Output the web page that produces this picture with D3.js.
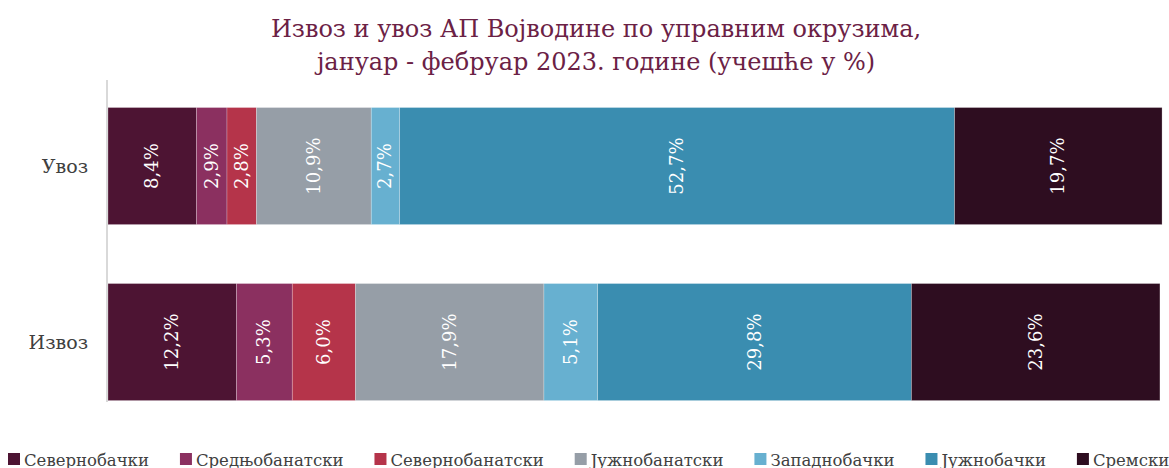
<!DOCTYPE html>
<html>
<head>
<meta charset="utf-8">
<script src="https://cdn.jsdelivr.net/npm/d3@7"></script>
<style>
  body { margin: 0; background: #fff; }
  svg { display: block; font-family: "DejaVu Serif", "Liberation Serif", serif; }
</style>
</head>
<body>
<div id="chart"></div>
<script>
const categories = ["Увоз", "Извоз"];
const districts = ["Севернобачки", "Средњобанатски", "Севернобанатски", "Јужнобанатски", "Западнобачки", "Јужнобачки", "Сремски"];
const importShare = [8.4, 2.9, 2.8, 10.9, 2.7, 52.7, 19.7];
const exportShare = [12.2, 5.3, 6.0, 17.9, 5.1, 29.8, 23.6];
const colors = ["#4d1433", "#8b3060", "#b5344a", "#969ea7", "#67b0d0", "#3a8db0", "#2e0d20"];

function init() {
  const width = 1169;
  const height = 468;
  const margin = { left: 108, right: 8 };

  const svg = d3.select("#chart").append("svg")
      .attr("width", width)
      .attr("height", height);

  // title
  const title = svg.append("text")
      .attr("text-anchor", "middle")
      .attr("fill", "#6b2145")
      .attr("font-size", 24);
  title.append("tspan").attr("x", 596).attr("y", 37).text("Извоз и увоз АП Војводине по управним окрузима,");
  title.append("tspan").attr("x", 596).attr("y", 70).text("јануар - фебруар 2023. године (учешће у %)");

  const rows = [importShare, exportShare];

  const x = d3.scaleLinear()
      .domain([0, 100])
      .range([margin.left, width - margin.right]);

  const y = d3.scaleBand()
      .domain(categories)
      .range([77.6, 430.5])
      .paddingInner(0.335)
      .paddingOuter(0.17);

  // stacked segments
  const segs = [];
  categories.forEach((c, i) => {
    let acc = 0;
    rows[i].forEach((v, j) => {
      segs.push({ cat: c, key: districts[j], v, x0: acc, x1: acc + v, color: colors[j] });
      acc += v;
    });
  });

  svg.append("g")
    .selectAll("rect")
    .data(segs)
    .join("rect")
      .attr("x", d => x(d.x0))
      .attr("y", d => y(d.cat))
      .attr("width", d => x(d.x1) - x(d.x0))
      .attr("height", y.bandwidth())
      .attr("fill", d => d.color)
      .attr("stroke", "rgba(255,255,255,0.35)")
      .attr("stroke-width", 0.7);

  const fmt = v => v.toFixed(1).replace(".", ",") + "%";

  svg.append("g")
    .selectAll("text")
    .data(segs)
    .join("text")
      .attr("transform", d => `translate(${(x(d.x0) + x(d.x1)) / 2 + 6},${y(d.cat) + y.bandwidth() / 2}) rotate(-90)`)
      .attr("text-anchor", "middle")
      .attr("fill", "#fff")
      .attr("font-size", 18)
      .text(d => fmt(d.v));

  // axis line
  svg.append("line")
      .attr("x1", margin.left - 1).attr("x2", margin.left - 1)
      .attr("y1", 80).attr("y2", 402)
      .attr("stroke", "#d9d9d9")
      .attr("stroke-width", 2);

  // category labels
  svg.append("g")
    .selectAll("text")
    .data(categories)
    .join("text")
      .attr("x", 88)
      .attr("y", d => y(d) + y.bandwidth() / 2 + 7)
      .attr("text-anchor", "end")
      .attr("fill", "#404040")
      .attr("font-size", 19)
      .text(d => d);

  // legend
  const legend = svg.append("g");
  let lx = 8;
  districts.forEach((name, i) => {
    const g = legend.append("g").attr("transform", `translate(${lx},0)`);
    g.append("rect")
        .attr("x", 0).attr("y", 453)
        .attr("width", 12).attr("height", 12)
        .attr("fill", colors[i]);
    const t = g.append("text")
        .attr("x", 16).attr("y", 466)
        .attr("fill", "#404040")
        .attr("font-size", 16.5)
        .text(name);
    lx += 16 + t.node().getComputedTextLength() + 31;
  });
}

document.addEventListener("DOMContentLoaded", init);
</script>
</body>
</html>
